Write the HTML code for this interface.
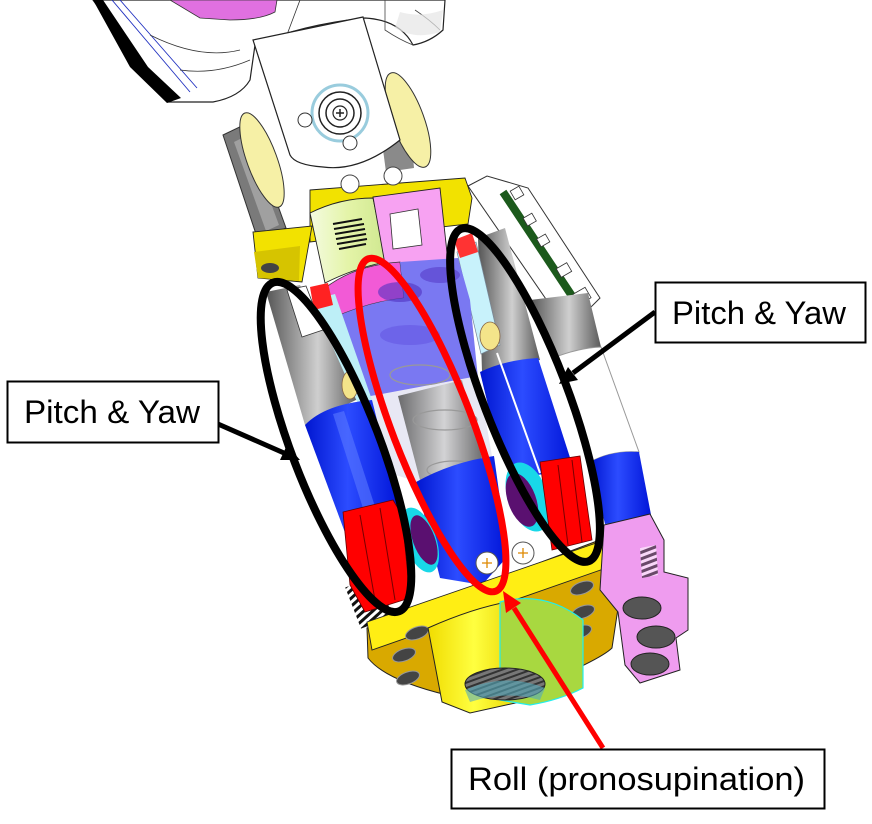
<!DOCTYPE html>
<html><head><meta charset="utf-8"><style>
html,body{margin:0;padding:0;background:#fff;}
svg{display:block;}
text{font-family:"Liberation Sans",sans-serif;}
</style></head><body>
<svg width="872" height="824" viewBox="0 0 872 824" xmlns="http://www.w3.org/2000/svg">
<defs>
 <linearGradient id="gray" x1="0" y1="0" x2="1" y2="0">
  <stop offset="0" stop-color="#555"/><stop offset="0.55" stop-color="#cfcfcf"/><stop offset="1" stop-color="#5a5a5a"/>
 </linearGradient>
 <linearGradient id="blue" x1="0" y1="0" x2="1" y2="0">
  <stop offset="0" stop-color="#0016d0"/><stop offset="0.45" stop-color="#2c4cff"/><stop offset="1" stop-color="#0014d8"/>
 </linearGradient>
 <linearGradient id="lime" x1="0" y1="0" x2="1" y2="0">
  <stop offset="0" stop-color="#f4fbe0"/><stop offset="0.5" stop-color="#e4f4a8"/><stop offset="1" stop-color="#cfe890"/>
 </linearGradient>
 <linearGradient id="yel" x1="0" y1="0" x2="1" y2="0">
  <stop offset="0" stop-color="#f0dc00"/><stop offset="0.5" stop-color="#ffff40"/><stop offset="1" stop-color="#e8d400"/>
 </linearGradient>
 <pattern id="stripes" width="6" height="6" patternUnits="userSpaceOnUse" patternTransform="rotate(-21)">
  <rect width="6" height="6" fill="#fff"/><rect width="6" height="3" fill="#111"/>
 </pattern>
 <pattern id="gear" width="5" height="5" patternUnits="userSpaceOnUse" patternTransform="rotate(70)">
  <rect width="5" height="5" fill="#777"/><rect width="2" height="5" fill="#333"/>
 </pattern>
</defs>

<!-- Top shell -->
<path d="M93,0 L445,0 L443,30 Q430,42 413,45 Q400,20 365,18 Q300,25 255,45 L250,80 Q240,97 213,102 L168,102 Z" fill="#fff" stroke="#222" stroke-width="1.2"/>
<polygon points="93,0 103,0 148,67 181,98 167,103 130,67" fill="#000"/>
<line x1="112" y1="0" x2="190" y2="92" stroke="#2030c0" stroke-width="0.9"/>
<line x1="120" y1="0" x2="197" y2="88" stroke="#2030c0" stroke-width="0.9"/>
<path d="M150,35 Q200,60 240,50 M180,70 Q215,75 250,60 M300,0 L285,40" fill="none" stroke="#333" stroke-width="0.8"/>
<path d="M170,0 L277,0 L275,12 Q260,20 230,20 L200,18 Z" fill="#e070e0" stroke="#333" stroke-width="0.8"/>
<path d="M385,0 L385,30 Q400,40 413,45 M415,10 Q430,20 440,30" fill="none" stroke="#444" stroke-width="0.8"/>
<path d="M395,28 Q415,40 440,32 L443,10 Q420,18 400,12 Z" fill="#e6e6e6" opacity="0.7"/>

<!-- right disc & gray -->
<polygon points="380,127 410,122 414,168 386,172" fill="#8a8a8a"/>
<ellipse cx="408" cy="120" rx="16" ry="50" transform="rotate(-20 408 120)" fill="#f6f0a6" stroke="#333" stroke-width="1"/>
<!-- gray block left -->
<polygon points="223,135 248,123 286,228 258,240" fill="#7a7a7a" stroke="#333" stroke-width="1"/>
<polygon points="234,142 246,136 279,225 266,231" fill="#a0a0a0"/>
<ellipse cx="262" cy="160" rx="15" ry="50" transform="rotate(-20 262 160)" fill="#f6f0a6" stroke="#333" stroke-width="1"/>

<!-- center plate -->
<path d="M253,40 L363,17 L400,140 Q360,172 323,167 Q295,165 290,155 Z" fill="#fff" stroke="#222" stroke-width="1.2"/>
<circle cx="340" cy="113" r="28" fill="#fff" stroke="#9cd" stroke-width="3"/>
<circle cx="340" cy="113" r="21" fill="none" stroke="#222" stroke-width="1.5"/>
<circle cx="340" cy="113" r="14" fill="none" stroke="#222" stroke-width="1.5"/>
<circle cx="340" cy="113" r="7" fill="#fff" stroke="#222" stroke-width="1.2"/>
<path d="M336,113 h8 M340,109 v8" stroke="#222" stroke-width="1.5"/>
<circle cx="305" cy="120" r="7" fill="#fff" stroke="#333"/>
<circle cx="350" cy="143" r="7" fill="#fff" stroke="#333"/>

<!-- white box + PCB upper right -->
<polygon points="468,186 487,176 528,188 600,298 588,310 548,302" fill="#fff" stroke="#333" stroke-width="1"/>
<line x1="503" y1="192" x2="572" y2="296" stroke="#1c5a1c" stroke-width="8"/>
<g fill="#fff" stroke="#333" stroke-width="0.8">
<rect x="512" y="188" width="10" height="10" transform="rotate(-30 517 193)"/>
<rect x="525" y="215" width="10" height="9" transform="rotate(-30 530 220)"/>
<rect x="538" y="236" width="10" height="9" transform="rotate(-30 543 240)"/>
<rect x="558" y="265" width="12" height="10" transform="rotate(-30 564 270)"/>
<rect x="575" y="290" width="14" height="12" transform="rotate(-30 582 296)"/>
</g>

<!-- yellow plate -->
<polygon points="310,190 465,178 472,198 468,224 310,242" fill="#f2e200" stroke="#222" stroke-width="0.9"/>
<polygon points="253,232 312,226 302,282 258,278" fill="#f2e200" stroke="#222" stroke-width="0.9"/>
<polygon points="254,252 300,246 299,281 258,278" fill="#d6c400"/>
<circle cx="350" cy="184" r="9" fill="#fff" stroke="#444"/>
<circle cx="393" cy="176" r="9" fill="#fff" stroke="#444"/>
<ellipse cx="270" cy="268" rx="9" ry="5" fill="#444"/>
<!-- lime cylinder -->
<path d="M310,213 Q340,198 373,198 L386,262 Q355,268 325,283 Z" fill="url(#lime)" stroke="#222" stroke-width="0.9"/>
<g stroke="#111" stroke-width="2">
<line x1="333" y1="224" x2="362" y2="219"/><line x1="334" y1="229" x2="364" y2="224"/><line x1="335" y1="234" x2="365" y2="229"/>
<line x1="336" y1="239" x2="366" y2="234"/><line x1="337" y1="244" x2="367" y2="239"/><line x1="339" y1="249" x2="366" y2="244"/>
</g>
<!-- pink block -->
<polygon points="373,197 440,188 448,262 386,270" fill="#f7a2f2" stroke="#222" stroke-width="0.9"/>
<polygon points="390,214 418,209 422,245 393,249" fill="#fff" stroke="#333" stroke-width="0.8"/>

<!-- far right column -->
<path d="M530,300 L588,293 L601,347 Q578,348 553,358 Z" fill="url(#gray)"/>
<path d="M553,358 Q578,348 601,347 L639,452 Q612,450 590,462 Z" fill="#fff" stroke="#999" stroke-width="1"/>
<path d="M590,462 Q612,450 639,452 L652,520 L605,524 Z" fill="url(#blue)"/>

<!-- right column -->
<polygon points="478,238 505,228 540,360 482,372" fill="url(#gray)"/>
<polygon points="457,252 476,242 500,345 481,354" fill="#c8f2fb" stroke="#789" stroke-width="0.7"/>
<polygon points="454,240 472,233 478,252 460,258" fill="#f33"/>
<ellipse cx="490" cy="336" rx="10" ry="14" fill="#f4e48a" stroke="#864" stroke-width="0.8"/>
<path d="M480,372 Q505,360 538,358 L574,470 L515,478 L494,430 Z" fill="url(#blue)"/>
<line x1="497" y1="353" x2="540" y2="473" stroke="#fff" stroke-width="2"/>

<!-- center column -->
<path d="M325,288 Q355,265 400,262 L404,298 Q368,302 333,318 Z" fill="#f25ad6" stroke="#333" stroke-width="0.8"/>
<path d="M333,318 Q368,302 404,298 L400,262 L458,258 L470,300 L478,378 L372,405 L352,352 Z" fill="#7a78f2"/>
<ellipse cx="400" cy="292" rx="22" ry="10" fill="#5030c0" opacity="0.6"/>
<ellipse cx="440" cy="275" rx="20" ry="8" fill="#5030c0" opacity="0.5"/>
<ellipse cx="410" cy="335" rx="30" ry="10" fill="#6050e0" opacity="0.5"/>
<path d="M360,398 L478,376 L492,456 L418,482 L380,470 Z" fill="#e8e8f4"/>
<polygon points="398,396 462,380 482,458 420,480" fill="url(#gray)" opacity="0.85"/>
<g fill="none" stroke="#999" stroke-width="1.2">
<ellipse cx="420" cy="375" rx="30" ry="10"/><ellipse cx="445" cy="420" rx="32" ry="10"/><ellipse cx="455" cy="470" rx="28" ry="9"/>
</g>
<path d="M416,482 Q452,462 494,456 L508,556 L482,585 L440,578 Z" fill="url(#blue)"/>
<ellipse cx="420" cy="540" rx="16" ry="34" transform="rotate(-20 420 540)" fill="#18d8e8"/>
<ellipse cx="424" cy="540" rx="11" ry="26" transform="rotate(-20 424 540)" fill="#5a1070"/>

<!-- left column -->
<polygon points="266,292 300,285 360,398 305,425" fill="url(#gray)"/>
<polygon points="287,290 306,286 323,330 302,337" fill="#fff" stroke="#333" stroke-width="0.8"/>
<polygon points="312,300 335,294 372,400 358,404" fill="#bdeff7"/>
<polygon points="310,287 328,283 333,305 314,310" fill="#f22"/>
<ellipse cx="350" cy="385" rx="8" ry="14" fill="#f4e48a" stroke="#864" stroke-width="0.8"/>
<path d="M305,425 Q325,404 372,400 L400,512 L347,538 Z" fill="url(#blue)"/>
<polygon points="333,414 344,411 380,522 369,527" fill="#5a78ff" opacity="0.6"/>
<rect x="352" y="580" width="34" height="44" transform="rotate(-21 369 602)" fill="url(#stripes)"/>
<path d="M343,512 L393,500 L402,515 L410,598 L365,612 L350,585 Z" fill="#f00" stroke="#600" stroke-width="0.8"/>
<path d="M360,515 L375,600 M380,508 L395,600" stroke="#700" stroke-width="1"/>

<!-- right red + disc -->
<ellipse cx="528" cy="497" rx="20" ry="36" transform="rotate(-20 528 497)" fill="#18d8e8"/>
<ellipse cx="522" cy="500" rx="14" ry="28" transform="rotate(-20 522 500)" fill="#5a1070"/>
<path d="M540,462 L580,456 L592,540 L552,550 Z" fill="#f00" stroke="#600" stroke-width="0.8"/>
<path d="M558,465 L568,545 M572,460 L582,542" stroke="#700" stroke-width="1"/>

<!-- base -->
<path d="M367,628 L368,658 Q385,680 447,695 L528,690 Q600,660 612,648 L625,562 L605,538 Z" fill="#d9a900" stroke="#222" stroke-width="1"/>
<path d="M367,622 L605,540 L623,557 L612,566 L372,650 Z" fill="#ffee14" stroke="#222" stroke-width="0.9"/>
<g fill="#444" stroke="#999" stroke-width="1">
<ellipse cx="417" cy="633" rx="12" ry="6" transform="rotate(-20 417 633)"/>
<ellipse cx="404" cy="655" rx="12" ry="6" transform="rotate(-20 404 655)"/>
<ellipse cx="408" cy="678" rx="12" ry="6" transform="rotate(-20 408 678)"/>
<ellipse cx="582" cy="588" rx="12" ry="6" transform="rotate(-20 582 588)"/>
<ellipse cx="583" cy="612" rx="12" ry="6" transform="rotate(-20 583 612)"/>
<ellipse cx="580" cy="632" rx="12" ry="6" transform="rotate(-20 580 632)"/>
</g>
<path d="M428,628 Q480,605 520,600 L520,702 L470,713 L442,702 Z" fill="url(#yel)" stroke="#222" stroke-width="1"/>
<path d="M500,602 Q545,590 583,620 L583,688 Q560,700 530,705 L500,700 Z" fill="#a8d840" stroke="#2ee" stroke-width="1.2"/>
<ellipse cx="505" cy="684" rx="40" ry="16" fill="url(#gear)" stroke="#222"/>
<path d="M465,690 Q505,672 545,688 L540,700 Q505,690 470,702 Z" fill="#5ab" opacity="0.6"/>
<circle cx="487" cy="563" r="11" fill="#fff" stroke="#555"/>
<circle cx="523" cy="553" r="11" fill="#fff" stroke="#555"/>
<path d="M482,563h10M487,558v10M518,553h10M523,548v10" stroke="#d80" stroke-width="1.3"/>

<!-- pink connector -->
<path d="M604,525 L650,514 L664,540 L664,572 L688,578 L688,630 L676,638 L680,670 L640,683 L625,665 L618,612 L600,590 Z" fill="#ef9cef" stroke="#222" stroke-width="1"/>
<g fill="#555" stroke="#222">
<ellipse cx="642" cy="608" rx="19" ry="11"/><ellipse cx="656" cy="637" rx="19" ry="11"/><ellipse cx="650" cy="664" rx="19" ry="11"/>
</g>
<path d="M640,548 L656,545 L658,575 L642,578 Z" fill="url(#stripes)" opacity="0.6"/>

<!-- highlight ellipses -->
<ellipse cx="336" cy="447" rx="44" ry="176" transform="rotate(-21 336 447)" fill="none" stroke="#000" stroke-width="8"/>
<ellipse cx="525" cy="395" rx="42" ry="178" transform="rotate(-21 525 395)" fill="none" stroke="#000" stroke-width="8"/>
<ellipse cx="432" cy="425" rx="40" ry="178" transform="rotate(-21 432 425)" fill="none" stroke="#f00" stroke-width="7"/>

<!-- arrows -->
<line x1="218" y1="424" x2="284" y2="453" stroke="#000" stroke-width="5"/>
<polygon points="300,460 280,460 287,445" fill="#000"/>
<line x1="655" y1="312" x2="573" y2="373" stroke="#000" stroke-width="5"/>
<polygon points="559,384 568,367 578,380" fill="#000"/>
<line x1="603" y1="748" x2="514" y2="608" stroke="#f00" stroke-width="5"/>
<polygon points="503,591 521,603 506,613" fill="#f00"/>

<!-- labels -->
<rect x="7.5" y="381.5" width="211" height="61" fill="#fff" stroke="#000" stroke-width="2"/>
<text x="24" y="423" font-size="32" textLength="176" lengthAdjust="spacingAndGlyphs" fill="#000">Pitch &amp; Yaw</text>
<rect x="655.5" y="282.5" width="210" height="60" fill="#fff" stroke="#000" stroke-width="2"/>
<text x="672" y="324" font-size="32" textLength="174" lengthAdjust="spacingAndGlyphs" fill="#000">Pitch &amp; Yaw</text>
<rect x="451.5" y="749.5" width="373" height="59" fill="#fff" stroke="#000" stroke-width="2"/>
<text x="468" y="790" font-size="32" textLength="337" lengthAdjust="spacingAndGlyphs" fill="#000">Roll (pronosupination)</text>
</svg>
</body></html>
